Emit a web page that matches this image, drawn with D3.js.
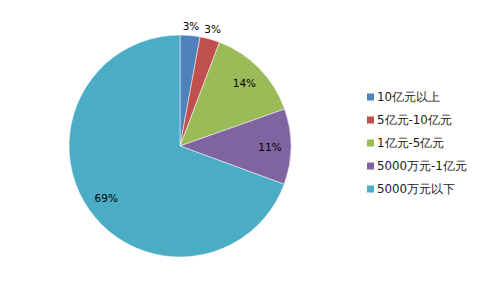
<!DOCTYPE html>
<html><head><meta charset="utf-8">
<script src="https://cdn.jsdelivr.net/npm/d3@7/dist/d3.min.js"></script>
<style>body{margin:0;background:#fff}svg{display:block}</style>
</head><body>
<svg id="c" width="484" height="292"></svg>
<script>
const categories = ["10亿元以上","5亿元-10亿元","1亿元-5亿元","5000万元-1亿元","5000万元以下"];
const values = [2.9, 2.9, 13.8, 11.0, 69.4];
const labels = ["3%","3%","14%","11%","69%"];
const colors = ["#4F81BD","#C0504D","#9BBB59","#8064A2","#4BACC6"];

const svg = d3.select("#c");
const cx = 180, cy = 146, R = 111;
const pie = d3.pie().sort(null).value(d => d)(values);
const arc = d3.arc().innerRadius(0).outerRadius(R);
const g = svg.append("g").attr("transform", `translate(${cx},${cy})`);
g.selectAll("path").data(pie).enter().append("path")
  .attr("d", arc).attr("fill", (d,i) => colors[i])
  .attr("stroke", "#fff").attr("stroke-width", 0.5);

const inArc = d3.arc().innerRadius(90).outerRadius(90);
const outArc = d3.arc().innerRadius(121).outerRadius(121);
g.selectAll("text").data(pie).enter().append("text")
  .attr("transform", (d,i) => {
    const p = (values[i] < 5 ? outArc : inArc).centroid(d);
    return `translate(${p[0]},${p[1]})`;
  })
  .attr("text-anchor", "middle").attr("dominant-baseline", "central")
  .style("font-family", "DejaVu Sans, sans-serif").style("font-size", "10.5px")
  .attr("fill", "#000")
  .text((d,i) => labels[i]);

const ly = d3.scalePoint().domain(categories).range([97, 189]);
const lg = svg.append("g");
categories.forEach((c,i) => {
  lg.append("rect").attr("x", 367).attr("y", ly(c) - 3.5).attr("width", 7).attr("height", 7).attr("fill", colors[i]);
  lg.append("text").attr("x", 377).attr("y", ly(c)).attr("dominant-baseline", "central")
    .style("font-family", "DejaVu Sans, sans-serif").style("font-size", "11.8px")
    .attr("fill", "#1a1a1a").text(c);
});
</script>
</body></html>
